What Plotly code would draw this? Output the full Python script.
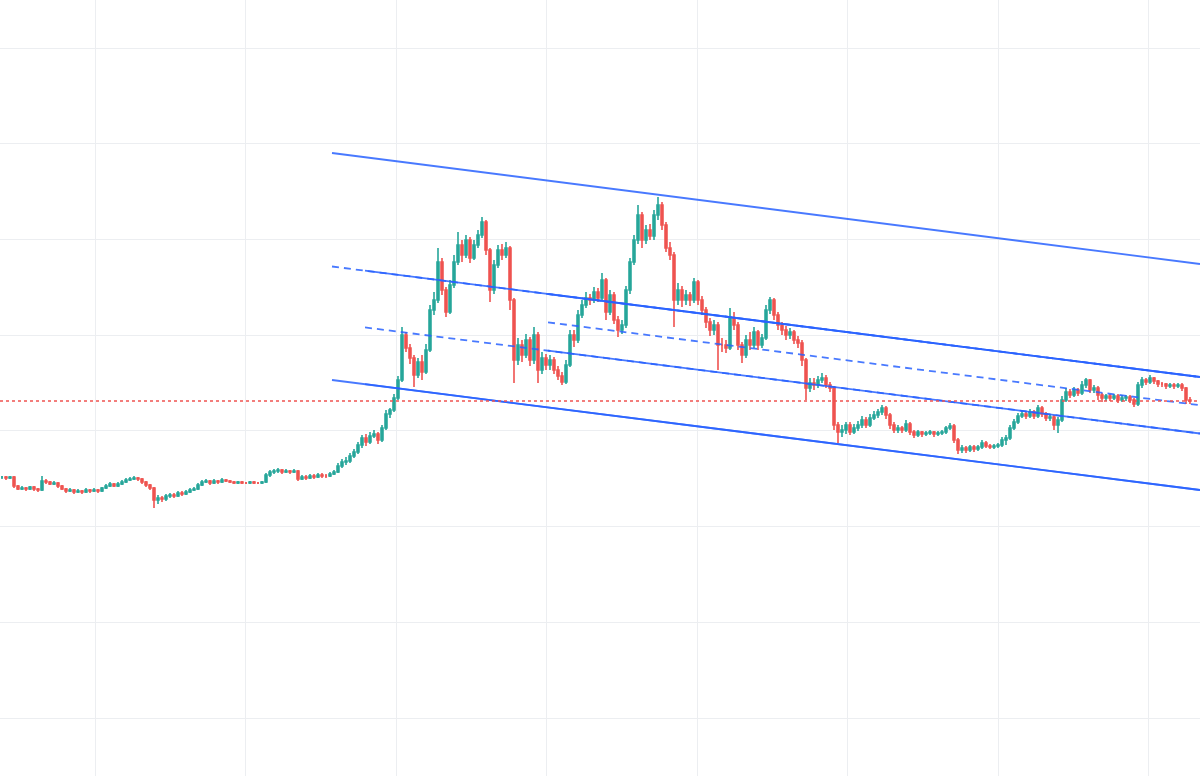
import plotly.graph_objects as go

# ---- candle data (price units, arbitrary scale) ----
close = [
    523, 522, 523, 514, 511, 512, 511, 513, 511, 510,
    519, 518, 516, 517, 514, 511, 509, 510, 508, 509,
    508, 510, 509, 510, 509, 512, 514, 516, 514, 516,
    518, 520, 521, 522, 521, 518, 515, 512, 500, 502,
    501, 504, 505, 504, 507, 506, 508, 510, 511, 515,
    518, 519, 517, 519, 518, 520, 519, 518, 517, 518,
    517, 517, 518, 517, 517, 518, 525, 528, 529, 530,
    528, 529, 528, 529, 521, 523, 522, 524, 523, 525,
    524, 524, 526, 528, 534, 538, 539, 544, 548, 555,
    562, 558, 564, 566, 560, 572, 586, 590, 602, 620,
    665, 652, 642, 625, 638, 628, 650, 690, 700, 738,
    710, 688, 715, 738, 755, 745, 760, 742, 755, 765,
    778, 750, 710, 735, 750, 745, 752, 700, 640, 655,
    645, 660, 640, 665, 630, 642, 635, 640, 630, 624,
    618, 635, 665, 660, 685, 695, 702, 700, 708, 702,
    720, 688, 705, 680, 670, 675, 710, 738, 760, 785,
    760, 770, 764, 785, 795, 775, 752, 745, 700, 710,
    700, 705, 700, 718, 700, 690, 678, 670, 675, 655,
    655, 652, 682, 675, 655, 645, 660, 655, 668, 655,
    662, 690, 700, 685, 675, 670, 665, 668, 660, 657,
    640, 612, 617, 615, 620, 622, 615, 612, 575, 568,
    570, 575, 568, 572, 575, 580, 575, 582, 585, 588,
    592, 585, 575, 570, 572, 570, 576, 568, 565, 568,
    566, 567, 568, 566, 567, 568, 572, 574, 560, 550,
    552, 550, 553, 551, 553, 557, 554, 553, 554, 555,
    560, 562, 572, 578, 584, 586, 584, 588, 584, 592,
    586, 582, 583, 575, 580, 600, 608, 605, 610, 607,
    615, 620, 610, 612, 605, 602, 604, 602, 604, 600,
    602, 603, 600, 596, 615, 620, 618, 622, 619, 616,
    616, 614, 615, 614, 615, 612, 600, 599,
]
high = [
    524, 524, 524, 524, 515, 514, 513, 514, 514, 512,
    524, 521, 519, 519, 518, 515, 512, 512, 511, 511,
    510, 512, 511, 512, 511, 513, 516, 518, 517, 518,
    520, 522, 523, 524, 523, 522, 519, 516, 513, 505,
    504, 506, 507, 507, 509, 509, 510, 512, 513, 517,
    520, 521, 520, 521, 520, 522, 521, 520, 519, 519,
    519, 518, 519, 519, 518, 519, 527, 530, 531, 532,
    531, 531, 530, 531, 530, 525, 525, 526, 526, 527,
    527, 526, 528, 530, 537, 541, 543, 547, 551, 558,
    565, 566, 568, 570, 568, 575, 590, 592, 606, 624,
    673, 668, 656, 645, 642, 645, 656, 695, 708, 752,
    742, 713, 720, 745, 768, 760, 765, 763, 760, 770,
    783, 780, 752, 740, 755, 756, 758, 754, 702, 662,
    660, 666, 663, 673, 668, 648, 646, 645, 643, 634,
    628, 640, 670, 670, 690, 700, 708, 706, 713, 712,
    727, 722, 710, 708, 684, 680, 714, 742, 765, 795,
    788, 775, 776, 790, 803, 798, 778, 758, 748, 717,
    714, 710, 708, 722, 720, 704, 693, 682, 680, 678,
    662, 660, 692, 688, 678, 658, 665, 668, 673, 670,
    666, 695, 703, 702, 688, 678, 674, 672, 670, 664,
    660, 642, 622, 622, 624, 627, 625, 618, 614, 578,
    575, 578, 578, 576, 579, 584, 583, 586, 589, 591,
    595, 594, 587, 578, 575, 574, 580, 578, 570, 570,
    569, 569, 570, 569, 569, 570, 574, 577, 576, 562,
    555, 554, 555, 555, 555, 560, 559, 556, 556, 557,
    563, 565, 575, 581, 587, 590, 588, 591, 590, 595,
    594, 588, 586, 585, 583, 604, 612, 611, 613, 612,
    619, 622, 621, 615, 614, 607, 606, 606, 606, 606,
    605, 605, 605, 602, 618, 623, 622, 625, 623, 620,
    618, 617, 617, 617, 617, 617, 613, 603,
]
low = [
    521, 520, 521, 512, 510, 510, 509, 510, 509, 508,
    509, 516, 515, 515, 512, 510, 507, 508, 506, 507,
    506, 507, 507, 508, 507, 508, 511, 513, 513, 513,
    515, 517, 519, 520, 519, 516, 513, 510, 492, 496,
    498, 499, 502, 502, 503, 504, 505, 507, 509, 510,
    514, 517, 515, 516, 516, 517, 518, 517, 516, 516,
    516, 516, 516, 516, 516, 516, 517, 523, 526, 527,
    526, 527, 526, 527, 519, 520, 520, 521, 521, 522,
    522, 522, 523, 525, 527, 532, 535, 537, 542, 546,
    552, 554, 556, 562, 556, 558, 570, 582, 588, 600,
    618, 648, 636, 613, 622, 620, 626, 648, 685, 697,
    705, 683, 686, 712, 735, 738, 742, 737, 740, 752,
    762, 745, 698, 706, 732, 740, 742, 690, 617, 635,
    638, 642, 634, 636, 617, 626, 630, 630, 626, 620,
    615, 616, 633, 653, 657, 682, 692, 695, 697, 698,
    700, 680, 685, 676, 663, 666, 672, 706, 735, 756,
    752, 756, 760, 760, 780, 770, 748, 740, 673, 695,
    693, 695, 694, 697, 695, 685, 672, 664, 665, 630,
    648, 647, 650, 670, 650, 637, 642, 650, 652, 650,
    652, 660, 686, 680, 670, 665, 660, 661, 656, 652,
    634, 600, 608, 610, 612, 617, 612, 608, 570, 557,
    563, 566, 565, 566, 569, 572, 572, 573, 580, 582,
    585, 581, 571, 567, 567, 567, 568, 565, 562, 563,
    563, 564, 565, 563, 564, 565, 566, 570, 557, 546,
    547, 547, 548, 548, 549, 551, 552, 551, 551, 552,
    553, 555, 560, 570, 576, 582, 581, 582, 581, 582,
    583, 579, 579, 570, 567, 578, 598, 602, 603, 604,
    605, 612, 607, 607, 600, 598, 599, 599, 600, 597,
    598, 599, 597, 593, 594, 612, 615, 616, 616, 613,
    613, 611, 612, 611, 612, 609, 596, 596,
]
open_ = [close[0]] + close[:-1]
idx = list(range(len(close)))

# ---- parallel channels: x start/end (candle index), top and bottom prices ----
ch1_x = [82.5, 299.5]
ch1_top = [847, 736]
ch1_bot = [620, 510]

ch2_x = [90.75, 299.5]
ch2_top = [729.3, 623]
ch2_bot = [615.8, 510]

ch3_x = [136.5, 299.5]
ch3_top = [706.0, 623]
ch3_bot = [649.3, 566.5]

last_price = 599

BLUE = "#2962ff"
UP = "#26a69a"
DOWN = "#ef5350"

fig = go.Figure()
fig.add_trace(go.Candlestick(
    x=idx, open=open_, high=high, low=low, close=close,
    increasing=dict(line=dict(color=UP, width=1.6), fillcolor=UP),
    decreasing=dict(line=dict(color=DOWN, width=1.6), fillcolor=DOWN),
    whiskerwidth=0, hoverinfo="skip", showlegend=False,
))


def add_channel(xs, top, bot):
    mid = [(a + b) / 2 for a, b in zip(top, bot)]
    fig.add_trace(go.Scatter(x=xs, y=mid, mode="lines",
                             line=dict(color=BLUE, width=1.8, dash="7px,5px"),
                             opacity=0.85, showlegend=False, hoverinfo="skip"))
    for ys in (top, bot):
        fig.add_trace(go.Scatter(x=xs, y=ys, mode="lines",
                                 line=dict(color=BLUE, width=1.8),
                                 opacity=0.85, showlegend=False, hoverinfo="skip"))


add_channel(ch1_x, ch1_top, ch1_bot)
add_channel(ch2_x, ch2_top, ch2_bot)
add_channel(ch3_x, ch3_top, ch3_bot)

fig.add_shape(type="line", xref="paper", x0=0, x1=1, yref="y",
              y0=last_price, y1=last_price,
              line=dict(color=DOWN, width=1.3, dash="dot"))

GRID = "#eceef1"
fig.update_layout(
    width=1200, height=776,
    margin=dict(l=0, r=0, t=0, b=0),
    paper_bgcolor="white", plot_bgcolor="white",
    showlegend=False,
    xaxis=dict(range=[-0.5, 299.5], showgrid=True, gridcolor=GRID, gridwidth=1,
               tick0=23.25, dtick=37.64, showticklabels=False, ticks="",
               zeroline=False, showline=False, rangeslider=dict(visible=False)),
    yaxis=dict(range=[224, 1000], showgrid=True, gridcolor=GRID, gridwidth=1,
               tick0=282, dtick=95.7, showticklabels=False, ticks="",
               zeroline=False, showline=False),
)

fig.write_html("out.html", config={"displayModeBar": False},
               post_script="document.body.style.margin='0';document.body.style.overflow='hidden';")
